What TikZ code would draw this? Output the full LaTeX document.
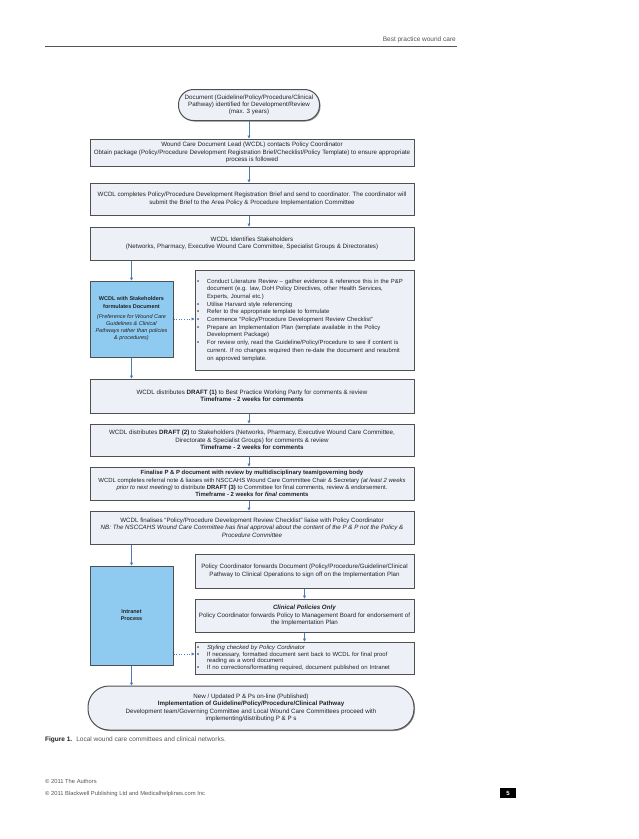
\documentclass[tikz,border=0pt]{standalone}
\usepackage{fontspec}
\setmainfont{Liberation Sans}
\usetikzlibrary{arrows.meta,shadows}
\definecolor{boxfill}{HTML}{EDF1F7}
\definecolor{bluefill}{HTML}{8FCBF0}
\definecolor{bordc}{HTML}{505050}
\definecolor{arrc}{HTML}{4A7EBB}
\definecolor{txt}{HTML}{222222}
\definecolor{foot}{HTML}{555555}
\newcommand\fs{\fontsize{6.2}{7.3}\selectfont}
\newcommand\fsf{\fontsize{5.95}{7.1}\selectfont}
\newcommand\fsb{\fontsize{5.95}{7.7}\selectfont}
\newcommand\fss{\fontsize{5.95}{6.9}\selectfont}
\newcommand\fsl{\fontsize{5.5}{7.2}\selectfont}
\newcommand\bitem[1]{\noindent\hangindent=10pt\hangafter=1\makebox[10pt][l]{\textbullet}#1\par}
\tikzset{
  box/.style={rectangle, draw=bordc, fill=boxfill, line width=1pt, align=center, font=\fs, text=txt, inner sep=1pt,
    drop shadow={shadow xshift=1pt, shadow yshift=-1pt, fill=black!60, opacity=0.7}},
  bluebox/.style={box, fill=bluefill, font=\fsl},
  listbox/.style={box, align=left, font=\fsb, text width=215pt, minimum width=219pt},
  arr/.style={draw=arrc, line width=0.6pt, -{Triangle[length=3pt,width=3pt]}},
  darr/.style={arr, dotted},
}
\begin{document}
\begin{tikzpicture}[x=1pt,y=-1pt]
\useasboundingbox[fill=white] (0,0) rectangle (638,839);

% header
\node[anchor=base east, inner sep=0pt, font=\fontsize{6.5}{8}\selectfont, text=foot] (hdr) at (456,41) {Best practice wound care};
\draw[foot, line width=0.8pt] (45,46.5) -- (457,46.5);

% start
\node[box, rounded corners=15pt, minimum width=141pt, minimum height=31pt] (start) at (249,105)
 {Document (Guideline/Policy/Procedure/Clinical\\Pathway) identified for Development/Review\\(max. 3 years)};

\node[box, minimum width=324pt, minimum height=27pt] (b1) at (252,152.5)
 {Wound Care Document Lead (WCDL) contacts Policy Coordinator\\
  Obtain package (Policy/Procedure Development Registration Brief/Checklist/Policy Template) to ensure appropriate\\
  process is followed};

\node[box, minimum width=324pt, minimum height=32pt] (b2) at (252,199)
 {WCDL completes Policy/Procedure Development Registration Brief and send to coordinator. The coordinator will\\
  submit the Brief to the Area Policy \& Procedure Implementation Committee};

\node[box, minimum width=324pt, minimum height=33pt] (b3) at (252,243.5)
 {WCDL Identifies Stakeholders\\
  (Networks, Pharmacy, Executive Wound Care Committee, Specialist Groups \& Directorates)};

\node[bluebox, minimum width=83pt, minimum height=76pt] (blue1) at (131.5,319)
 {\textbf{WCDL with Stakeholders}\\\textbf{formulates Document}\\[3pt]
  \textit{(Preference for Wound Care}\\\textit{Guidelines \& Clinical}\\\textit{Pathways rather than policies}\\\textit{\& procedures)}};

\node[listbox, minimum height=100pt] (bul1) at (304.5,320) {%
 \bitem{Conduct Literature Review – gather evidence \& reference this in the P\&P\newline document (e.g. law, DoH Policy Directives, other Health Services,\newline Experts, Journal etc.)}
 \bitem{Utilise Harvard style referencing}
 \bitem{Refer to the appropriate template to formulate}
 \bitem{Commence “Policy/Procedure Development Review Checklist”}
 \bitem{Prepare an Implementation Plan (template available in the Policy\newline Development Package)}
 \bitem{For review only, read the Guideline/Policy/Procedure to see if content is\newline current. If no changes required then re-date the document and resubmit\newline on approved template.}};

\node[box, minimum width=324pt, minimum height=34pt] (d1) at (252,396)
 {WCDL distributes \textbf{DRAFT (1)} to Best Practice Working Party for comments \& review\\
  \textbf{Timeframe - 2 weeks for comments}};

\node[box, minimum width=324pt, minimum height=32pt] (d2) at (252,440)
 {WCDL distributes \textbf{DRAFT (2)} to Stakeholders (Networks, Pharmacy, Executive Wound Care Committee,\\
  Directorate \& Specialist Groups) for comments \& review\\
  \textbf{Timeframe - 2 weeks for comments}};

\node[box, font=\fsf, minimum width=324pt, minimum height=33pt] (fin) at (252,483.5)
 {\textbf{Finalise P \& P document with review by multidisciplinary team/governing body}\\
  WCDL completes referral note \& liaises with NSCCAHS Wound Care Committee Chair \& Secretary \textit{(at least 2 weeks}\\
  \textit{prior to next meeting)} to distribute \textbf{DRAFT (3)} to Committee for final comments, review \& endorsement.\\
  \textbf{Timeframe - 2 weeks for \textit{final} comments}};

\node[box, minimum width=324pt, minimum height=33pt] (chk) at (252,527.5)
 {WCDL finalises “Policy/Procedure Development Review Checklist”  liaise with Policy Coordinator\\
  \textit{NB: The NSCCAHS Wound Care Committee has final approval about the content of the P \& P not the Policy \&}\\
  \textit{Procedure Committee}};

\node[bluebox, minimum width=83pt, minimum height=99pt] (intra) at (131.5,615.5)
 {\textbf{Intranet}\\\textbf{Process}};

\node[box, minimum width=219pt, minimum height=34pt] (pc1) at (304.5,571)
 {Policy Coordinator forwards Document (Policy/Procedure/Guideline/Clinical\\
  Pathway to Clinical Operations to sign off on the Implementation Plan};

\node[box, minimum width=219pt, minimum height=33pt] (clin) at (304.5,615.5)
 {\textbf{\textit{Clinical Policies Only}}\\
  Policy Coordinator forwards Policy to Management Board for endorsement of\\
  the Implementation Plan};

\node[listbox, font=\fss, minimum height=32pt] (sty) at (304.5,658) {%
 \bitem{\textit{Styling checked by Policy Cordinator}}
 \bitem{If necessary, formatted document sent back to WCDL for final proof\newline reading as a word document}
 \bitem{If no corrections/formatting required, document published on Intranet}};

\node[box, rounded corners=21pt, minimum width=326pt, minimum height=44pt] (final) at (251,708)
 {New / Updated P \& Ps on-line (Published)\\
  \textbf{Implementation of Guideline/Policy/Procedure/Clinical Pathway}\\
  Development team/Governing Committee  and Local Wound Care Committees proceed with\\
  implementing/distributing P \& P s};

% connectors
\draw[arr] (start.south) -- (start.south |- b1.north);
\draw[arr] (b1.south -| start.south) -- (start.south |- b2.north);
\draw[arr] (b2.south -| start.south) -- (start.south |- b3.north);
\draw[arr] (b3.south -| blue1.north) -- (blue1.north);
\draw[darr] (blue1.east) -- (blue1.east -| bul1.west);
\draw[arr] (blue1.south) -- (blue1.south |- d1.north);
\draw[arr] (d1.south -| start.south) -- (start.south |- d2.north);
\draw[arr] (d2.south -| start.south) -- (start.south |- fin.north);
\draw[arr] (fin.south -| start.south) -- (start.south |- chk.north);
\draw[arr] (chk.south -| intra.north) -- (intra.north);
\draw[arr] (pc1.south) -- (clin.north);
\draw[arr] (clin.south) -- (sty.north);
\draw[darr] ([yshift=4pt]sty.west -| intra.east) -- ([yshift=4pt]sty.west);
\draw[arr] (intra.south) -- (intra.south |- final.north);

% caption and footer
\node[anchor=base west, inner sep=0pt, font=\fontsize{6.5}{8}\selectfont, text=txt] (cap) at (45,741)
 {\textbf{Figure 1.}\hspace{4pt}{\color{foot}Local wound care committees and clinical networks.}};
\node[anchor=base west, inner sep=0pt, font=\fontsize{5.8}{7}\selectfont, text=foot] (c1) at (45,783) {© 2011 The Authors};
\node[anchor=base west, inner sep=0pt, font=\fontsize{5.8}{7}\selectfont, text=foot] (c2) at (45,795) {© 2011 Blackwell Publishing Ltd and Medicalhelplines.com Inc};
\node[fill=black, text=white, font=\bfseries\fontsize{6}{7}\selectfont, minimum width=16pt, minimum height=10pt, inner sep=0pt] (pg) at (508,793) {5};
\end{tikzpicture}
\end{document}
